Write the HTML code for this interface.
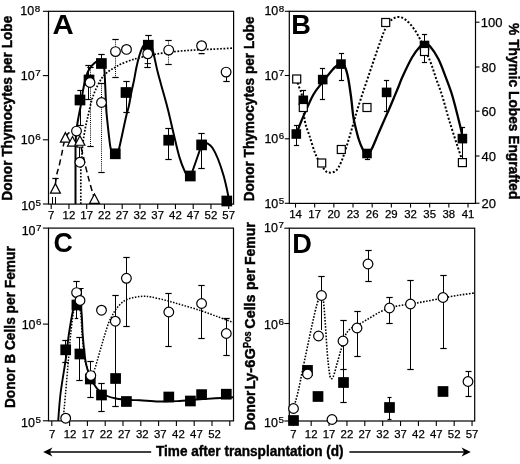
<!DOCTYPE html>
<html><head><meta charset="utf-8"><title>Figure</title>
<style>
html,body{margin:0;padding:0;background:#fff;}
body{width:520px;height:464px;overflow:hidden;}
svg{display:block;font-family:'Liberation Sans', sans-serif;will-change:transform;}
</style></head><body>
<svg width="520" height="464" viewBox="0 0 520 464">
<rect width="520" height="464" fill="#fff"/>
<rect x="48.50" y="11.30" width="185.10" height="192.80" fill="none" stroke="#000" stroke-width="1.2"/>
<line x1="42.90" y1="11.30" x2="48.50" y2="11.30" stroke="#000" stroke-width="1.1"/>
<text x="20.30" y="15.49" font-size="12" textLength="13.9" lengthAdjust="spacingAndGlyphs" stroke="#000" stroke-width="0.25">10</text>
<text transform="translate(34.70,11.59) scale(1.2,1)" font-size="8.2" stroke="#000" stroke-width="0.2">8</text>
<line x1="42.90" y1="75.60" x2="48.50" y2="75.60" stroke="#000" stroke-width="1.1"/>
<text x="20.80" y="79.69" font-size="12" textLength="13.9" lengthAdjust="spacingAndGlyphs" stroke="#000" stroke-width="0.25">10</text>
<text transform="translate(35.20,75.79) scale(1.2,1)" font-size="8.2" stroke="#000" stroke-width="0.2">7</text>
<line x1="42.90" y1="139.80" x2="48.50" y2="139.80" stroke="#000" stroke-width="1.1"/>
<text x="20.80" y="144.39" font-size="12" textLength="13.9" lengthAdjust="spacingAndGlyphs" stroke="#000" stroke-width="0.25">10</text>
<text transform="translate(35.20,140.49) scale(1.2,1)" font-size="8.2" stroke="#000" stroke-width="0.2">6</text>
<line x1="42.90" y1="204.00" x2="48.50" y2="204.00" stroke="#000" stroke-width="1.1"/>
<text x="21.20" y="209.59" font-size="12" textLength="13.9" lengthAdjust="spacingAndGlyphs" stroke="#000" stroke-width="0.25">10</text>
<text transform="translate(35.60,205.69) scale(1.2,1)" font-size="8.2" stroke="#000" stroke-width="0.2">5</text>
<line x1="51.20" y1="204.10" x2="51.20" y2="209.10" stroke="#000" stroke-width="1.1"/>
<text x="51.20" y="219.30" font-size="11.4" font-weight="normal" text-anchor="middle"  stroke="#000" stroke-width="0.25">7</text>
<line x1="68.95" y1="204.10" x2="68.95" y2="209.10" stroke="#000" stroke-width="1.1"/>
<text x="68.95" y="219.30" font-size="11.4" font-weight="normal" text-anchor="middle"  stroke="#000" stroke-width="0.25">12</text>
<line x1="86.70" y1="204.10" x2="86.70" y2="209.10" stroke="#000" stroke-width="1.1"/>
<text x="86.70" y="219.30" font-size="11.4" font-weight="normal" text-anchor="middle"  stroke="#000" stroke-width="0.25">17</text>
<line x1="104.45" y1="204.10" x2="104.45" y2="209.10" stroke="#000" stroke-width="1.1"/>
<text x="104.45" y="219.30" font-size="11.4" font-weight="normal" text-anchor="middle"  stroke="#000" stroke-width="0.25">22</text>
<line x1="122.20" y1="204.10" x2="122.20" y2="209.10" stroke="#000" stroke-width="1.1"/>
<text x="122.20" y="219.30" font-size="11.4" font-weight="normal" text-anchor="middle"  stroke="#000" stroke-width="0.25">27</text>
<line x1="139.95" y1="204.10" x2="139.95" y2="209.10" stroke="#000" stroke-width="1.1"/>
<text x="139.95" y="219.30" font-size="11.4" font-weight="normal" text-anchor="middle"  stroke="#000" stroke-width="0.25">32</text>
<line x1="157.70" y1="204.10" x2="157.70" y2="209.10" stroke="#000" stroke-width="1.1"/>
<text x="157.70" y="219.30" font-size="11.4" font-weight="normal" text-anchor="middle"  stroke="#000" stroke-width="0.25">37</text>
<line x1="175.45" y1="204.10" x2="175.45" y2="209.10" stroke="#000" stroke-width="1.1"/>
<text x="175.45" y="219.30" font-size="11.4" font-weight="normal" text-anchor="middle"  stroke="#000" stroke-width="0.25">42</text>
<line x1="193.20" y1="204.10" x2="193.20" y2="209.10" stroke="#000" stroke-width="1.1"/>
<text x="193.20" y="219.30" font-size="11.4" font-weight="normal" text-anchor="middle"  stroke="#000" stroke-width="0.25">47</text>
<line x1="210.95" y1="204.10" x2="210.95" y2="209.10" stroke="#000" stroke-width="1.1"/>
<text x="210.95" y="219.30" font-size="11.4" font-weight="normal" text-anchor="middle"  stroke="#000" stroke-width="0.25">52</text>
<line x1="228.70" y1="204.10" x2="228.70" y2="209.10" stroke="#000" stroke-width="1.1"/>
<text x="228.70" y="219.30" font-size="11.4" font-weight="normal" text-anchor="middle"  stroke="#000" stroke-width="0.25">57</text>
<text transform="translate(12.20,200.70) rotate(-90)" font-size="15.2" font-weight="bold" textLength="185.00" lengthAdjust="spacingAndGlyphs" stroke="#000" stroke-width="0.45">Donor Thymocytes per Lobe</text>
<text transform="translate(52.40,33.80) scale(1.08,1)" font-size="27.2" font-weight="bold">A</text>
<line x1="55.50" y1="178.50" x2="55.50" y2="184.00" stroke="#000" stroke-width="1"/>
<line x1="52.30" y1="178.50" x2="58.70" y2="178.50" stroke="#000" stroke-width="1.2"/>
<line x1="52.50" y1="197.00" x2="52.50" y2="204.00" stroke="#000" stroke-width="1"/>
<line x1="55.50" y1="197.00" x2="55.50" y2="204.00" stroke="#000" stroke-width="1"/>
<line x1="90.50" y1="67.50" x2="90.50" y2="146.50" stroke="#000" stroke-width="1" stroke-dasharray="1 1.1"/>
<line x1="87.30" y1="67.50" x2="93.70" y2="67.50" stroke="#000" stroke-width="1.2"/>
<line x1="87.30" y1="146.50" x2="93.70" y2="146.50" stroke="#000" stroke-width="1.2"/>
<line x1="101.50" y1="83.50" x2="101.50" y2="172.50" stroke="#000" stroke-width="1" stroke-dasharray="1 1.1"/>
<line x1="98.30" y1="83.50" x2="104.70" y2="83.50" stroke="#000" stroke-width="1.2"/>
<line x1="98.30" y1="172.50" x2="104.70" y2="172.50" stroke="#000" stroke-width="1.2"/>
<line x1="115.50" y1="39.50" x2="115.50" y2="77.50" stroke="#000" stroke-width="1" stroke-dasharray="1 1.1"/>
<line x1="112.30" y1="39.50" x2="118.70" y2="39.50" stroke="#000" stroke-width="1.2"/>
<line x1="112.30" y1="77.50" x2="118.70" y2="77.50" stroke="#000" stroke-width="1.2"/>
<line x1="147.50" y1="58.00" x2="147.50" y2="67.50" stroke="#000" stroke-width="1"/>
<line x1="144.30" y1="67.50" x2="150.70" y2="67.50" stroke="#000" stroke-width="1.2"/>
<line x1="144.60" y1="63.60" x2="151.00" y2="63.60" stroke="#000" stroke-width="1"/>
<line x1="168.50" y1="40.50" x2="168.50" y2="64.50" stroke="#000" stroke-width="1" stroke-dasharray="1 1.1"/>
<line x1="165.30" y1="40.50" x2="171.70" y2="40.50" stroke="#000" stroke-width="1.2"/>
<line x1="165.30" y1="64.50" x2="171.70" y2="64.50" stroke="#000" stroke-width="1.2"/>
<line x1="198.60" y1="53.60" x2="204.60" y2="53.60" stroke="#000" stroke-width="1.3"/>
<line x1="226.50" y1="77.00" x2="226.50" y2="81.50" stroke="#000" stroke-width="1"/>
<line x1="223.30" y1="81.50" x2="229.70" y2="81.50" stroke="#000" stroke-width="1.2"/>
<line x1="79.50" y1="147.20" x2="79.50" y2="157.00" stroke="#000" stroke-width="1"/>
<line x1="76.50" y1="147.20" x2="82.50" y2="147.20" stroke="#000" stroke-width="1"/>
<line x1="80.50" y1="90.50" x2="80.50" y2="125.50" stroke="#000" stroke-width="1"/>
<line x1="77.30" y1="90.50" x2="83.70" y2="90.50" stroke="#000" stroke-width="1.2"/>
<line x1="77.30" y1="125.50" x2="83.70" y2="125.50" stroke="#000" stroke-width="1.2"/>
<line x1="88.50" y1="65.50" x2="88.50" y2="99.50" stroke="#000" stroke-width="1"/>
<line x1="85.30" y1="65.50" x2="91.70" y2="65.50" stroke="#000" stroke-width="1.2"/>
<line x1="85.30" y1="99.50" x2="91.70" y2="99.50" stroke="#000" stroke-width="1.2"/>
<line x1="101.50" y1="54.50" x2="101.50" y2="63.00" stroke="#000" stroke-width="1"/>
<line x1="98.30" y1="54.50" x2="104.70" y2="54.50" stroke="#000" stroke-width="1.2"/>
<line x1="126.50" y1="81.50" x2="126.50" y2="112.50" stroke="#000" stroke-width="1"/>
<line x1="123.30" y1="81.50" x2="129.70" y2="81.50" stroke="#000" stroke-width="1.2"/>
<line x1="123.30" y1="112.50" x2="129.70" y2="112.50" stroke="#000" stroke-width="1.2"/>
<line x1="148.50" y1="35.50" x2="148.50" y2="46.00" stroke="#000" stroke-width="1"/>
<line x1="145.30" y1="35.50" x2="151.70" y2="35.50" stroke="#000" stroke-width="1.2"/>
<line x1="168.50" y1="128.50" x2="168.50" y2="159.50" stroke="#000" stroke-width="1"/>
<line x1="165.30" y1="128.50" x2="171.70" y2="128.50" stroke="#000" stroke-width="1.2"/>
<line x1="165.30" y1="159.50" x2="171.70" y2="159.50" stroke="#000" stroke-width="1.2"/>
<line x1="201.50" y1="133.50" x2="201.50" y2="168.50" stroke="#000" stroke-width="1"/>
<line x1="198.30" y1="133.50" x2="204.70" y2="133.50" stroke="#000" stroke-width="1.2"/>
<line x1="198.30" y1="168.50" x2="204.70" y2="168.50" stroke="#000" stroke-width="1.2"/>
<path d="M55.40,184.00 C55.67,182.25 56.38,176.50 57.00,173.50 C57.62,170.50 58.27,169.45 59.10,166.00 C59.93,162.55 61.20,156.57 62.00,152.80 C62.80,149.03 63.07,146.37 63.90,143.40 C64.73,140.43 65.65,136.98 67.00,135.00 C68.35,133.02 70.33,131.58 72.00,131.50 C73.67,131.42 75.37,131.42 77.00,134.50 C78.63,137.58 80.38,144.75 81.80,150.00 C83.22,155.25 84.25,160.82 85.50,166.00 C86.75,171.18 88.03,176.38 89.30,181.10 C90.57,185.82 92.23,191.32 93.10,194.30 C93.97,197.28 94.27,198.22 94.50,199.00" fill="none" stroke="#000" stroke-width="1.5" stroke-dasharray="6 3.6" stroke-linecap="butt" stroke-linejoin="round"/>
<path d="M80.8,204 L80.8,168  C80.97,166.25 81.48,161.28 81.80,157.50 C82.12,153.72 82.23,149.53 82.70,145.30 C83.17,141.07 83.82,136.57 84.60,132.10 C85.38,127.63 85.98,124.52 87.40,118.50 C88.82,112.48 90.75,102.67 93.10,96.00 C95.45,89.33 98.83,82.67 101.50,78.50 C104.17,74.33 106.77,72.88 109.10,71.00 C111.43,69.12 113.62,68.32 115.50,67.20 C117.38,66.08 117.98,65.42 120.40,64.30 C122.82,63.18 126.87,61.58 130.00,60.50 C133.13,59.42 135.22,58.82 139.20,57.80 C143.18,56.78 147.98,55.43 153.90,54.40 C159.82,53.37 168.10,52.32 174.70,51.60 C181.30,50.88 187.22,50.50 193.50,50.10 C199.78,49.70 205.77,49.53 212.40,49.20 C219.03,48.87 229.82,48.28 233.30,48.10" fill="none" stroke="#000" stroke-width="1.7" stroke-dasharray="1.7 1.6" stroke-linecap="butt" stroke-linejoin="round"/>
<path d="M75.5,204 L75.5,147  C75.63,144.33 75.88,135.50 76.30,131.00 C76.72,126.50 77.47,123.17 78.00,120.00 C78.53,116.83 79.03,114.43 79.50,112.00 C79.97,109.57 80.27,108.70 80.80,105.40 C81.33,102.10 82.00,96.28 82.70,92.20 C83.40,88.12 84.12,84.35 85.00,80.90 C85.88,77.45 86.82,74.08 88.00,71.50 C89.18,68.92 90.63,67.08 92.10,65.40 C93.57,63.72 95.38,62.30 96.80,61.40 C98.22,60.50 99.60,59.90 100.60,60.00 C101.60,60.10 102.20,60.67 102.80,62.00 C103.40,63.33 103.85,65.17 104.20,68.00 C104.55,70.83 104.67,74.65 104.90,79.00 C105.13,83.35 105.40,89.70 105.60,94.10 C105.80,98.50 105.88,101.58 106.10,105.40 C106.32,109.22 106.18,110.03 106.90,117.00 C107.62,123.97 109.42,141.03 110.40,147.20 C111.38,153.37 111.98,152.57 112.80,154.00 C113.62,155.43 114.57,155.80 115.30,155.80 C116.03,155.80 116.52,155.43 117.20,154.00 C117.88,152.57 117.93,153.37 119.40,147.20 C120.87,141.03 124.40,123.97 126.00,117.00 C127.60,110.03 128.10,109.53 129.00,105.40 C129.90,101.27 130.58,96.28 131.40,92.20 C132.22,88.12 133.07,85.02 133.90,80.90 C134.73,76.78 135.53,71.57 136.40,67.50 C137.27,63.43 138.10,59.83 139.10,56.50 C140.10,53.17 141.32,49.67 142.40,47.50 C143.48,45.33 144.62,44.33 145.60,43.50 C146.58,42.67 147.47,42.42 148.30,42.50 C149.13,42.58 149.78,42.42 150.60,44.00 C151.42,45.58 152.02,47.32 153.20,52.00 C154.38,56.68 156.00,65.30 157.70,72.10 C159.40,78.90 161.63,86.32 163.40,92.80 C165.17,99.28 166.57,104.05 168.30,111.00 C170.03,117.95 171.95,126.82 173.80,134.50 C175.65,142.18 177.52,150.82 179.40,157.10 C181.28,163.38 183.67,168.97 185.10,172.20 C186.53,175.43 187.13,175.62 188.00,176.50 C188.87,177.38 189.92,177.33 190.30,177.50 L201.6,145  C202.08,144.72 203.52,143.55 204.50,143.30 C205.48,143.05 206.18,142.77 207.50,143.50 C208.82,144.23 210.65,145.12 212.40,147.70 C214.15,150.28 216.12,154.28 218.00,159.00 C219.88,163.72 222.12,170.50 223.70,176.00 C225.28,181.50 226.62,187.83 227.50,192.00 C228.38,196.17 228.75,199.50 229.00,201.00" fill="none" stroke="#000" stroke-width="2" stroke-linecap="butt" stroke-linejoin="round"/>
<path d="M55.40,183.65 L60.40,193.15 L50.40,193.15 Z" fill="#fff" stroke="#000" stroke-width="1.2" stroke-linejoin="miter"/>
<path d="M65.40,132.65 L70.40,142.15 L60.40,142.15 Z" fill="#fff" stroke="#000" stroke-width="1.2" stroke-linejoin="miter"/>
<path d="M72.50,136.55 L77.50,146.05 L67.50,146.05 Z" fill="#fff" stroke="#000" stroke-width="1.2" stroke-linejoin="miter"/>
<path d="M79.90,135.75 L84.90,145.25 L74.90,145.25 Z" fill="#fff" stroke="#000" stroke-width="1.2" stroke-linejoin="miter"/>
<path d="M94.50,193.95 L99.50,203.45 L89.50,203.45 Z" fill="#fff" stroke="#000" stroke-width="1.2" stroke-linejoin="miter"/>
<rect x="74.65" y="94.65" width="10.70" height="10.70" fill="#000"/>
<rect x="83.65" y="74.65" width="10.70" height="10.70" fill="#000"/>
<rect x="96.05" y="58.15" width="10.70" height="10.70" fill="#000"/>
<rect x="109.95" y="148.45" width="10.70" height="10.70" fill="#000"/>
<rect x="120.65" y="87.15" width="10.70" height="10.70" fill="#000"/>
<rect x="142.95" y="39.85" width="10.70" height="10.70" fill="#000"/>
<rect x="163.35" y="134.85" width="10.70" height="10.70" fill="#000"/>
<rect x="184.95" y="170.65" width="10.70" height="10.70" fill="#000"/>
<rect x="196.25" y="139.55" width="10.70" height="10.70" fill="#000"/>
<rect x="221.45" y="195.65" width="10.70" height="10.70" fill="#000"/>
<circle cx="76.50" cy="131.10" r="4.85" fill="#fff" stroke="#000" stroke-width="1.2"/>
<circle cx="79.90" cy="162.20" r="4.85" fill="#fff" stroke="#000" stroke-width="1.2"/>
<circle cx="90.00" cy="82.50" r="4.85" fill="#fff" stroke="#000" stroke-width="1.2"/>
<circle cx="101.50" cy="102.50" r="4.85" fill="#fff" stroke="#000" stroke-width="1.2"/>
<circle cx="115.50" cy="51.60" r="4.85" fill="#fff" stroke="#000" stroke-width="1.2"/>
<circle cx="126.50" cy="49.40" r="4.85" fill="#fff" stroke="#000" stroke-width="1.2"/>
<circle cx="147.70" cy="53.80" r="4.85" fill="#fff" stroke="#000" stroke-width="1.2"/>
<circle cx="168.70" cy="50.10" r="4.85" fill="#fff" stroke="#000" stroke-width="1.2"/>
<circle cx="201.60" cy="45.70" r="4.85" fill="#fff" stroke="#000" stroke-width="1.2"/>
<circle cx="226.10" cy="72.10" r="4.85" fill="#fff" stroke="#000" stroke-width="1.2"/>
<rect x="289.30" y="11.30" width="186.20" height="192.10" fill="none" stroke="#000" stroke-width="1.2"/>
<line x1="284.80" y1="11.30" x2="289.30" y2="11.30" stroke="#000" stroke-width="1.1"/>
<text x="264.40" y="15.49" font-size="12" textLength="13.9" lengthAdjust="spacingAndGlyphs" stroke="#000" stroke-width="0.25">10</text>
<text transform="translate(278.80,11.59) scale(1.2,1)" font-size="8.2" stroke="#000" stroke-width="0.2">8</text>
<line x1="284.80" y1="75.50" x2="289.30" y2="75.50" stroke="#000" stroke-width="1.1"/>
<text x="264.40" y="79.79" font-size="12" textLength="13.9" lengthAdjust="spacingAndGlyphs" stroke="#000" stroke-width="0.25">10</text>
<text transform="translate(278.80,75.89) scale(1.2,1)" font-size="8.2" stroke="#000" stroke-width="0.2">7</text>
<line x1="284.80" y1="138.80" x2="289.30" y2="138.80" stroke="#000" stroke-width="1.1"/>
<text x="264.40" y="143.39" font-size="12" textLength="13.9" lengthAdjust="spacingAndGlyphs" stroke="#000" stroke-width="0.25">10</text>
<text transform="translate(278.80,139.49) scale(1.2,1)" font-size="8.2" stroke="#000" stroke-width="0.2">6</text>
<line x1="284.80" y1="203.30" x2="289.30" y2="203.30" stroke="#000" stroke-width="1.1"/>
<text x="264.40" y="207.59" font-size="12" textLength="13.9" lengthAdjust="spacingAndGlyphs" stroke="#000" stroke-width="0.25">10</text>
<text transform="translate(278.80,203.69) scale(1.2,1)" font-size="8.2" stroke="#000" stroke-width="0.2">5</text>
<line x1="295.50" y1="203.40" x2="295.50" y2="207.60" stroke="#000" stroke-width="1.1"/>
<text x="295.50" y="218.30" font-size="11.4" font-weight="normal" text-anchor="middle"  stroke="#000" stroke-width="0.25">14</text>
<line x1="314.67" y1="203.40" x2="314.67" y2="207.60" stroke="#000" stroke-width="1.1"/>
<text x="314.67" y="218.30" font-size="11.4" font-weight="normal" text-anchor="middle"  stroke="#000" stroke-width="0.25">17</text>
<line x1="333.84" y1="203.40" x2="333.84" y2="207.60" stroke="#000" stroke-width="1.1"/>
<text x="333.84" y="218.30" font-size="11.4" font-weight="normal" text-anchor="middle"  stroke="#000" stroke-width="0.25">20</text>
<line x1="353.01" y1="203.40" x2="353.01" y2="207.60" stroke="#000" stroke-width="1.1"/>
<text x="353.01" y="218.30" font-size="11.4" font-weight="normal" text-anchor="middle"  stroke="#000" stroke-width="0.25">23</text>
<line x1="372.18" y1="203.40" x2="372.18" y2="207.60" stroke="#000" stroke-width="1.1"/>
<text x="372.18" y="218.30" font-size="11.4" font-weight="normal" text-anchor="middle"  stroke="#000" stroke-width="0.25">26</text>
<line x1="391.35" y1="203.40" x2="391.35" y2="207.60" stroke="#000" stroke-width="1.1"/>
<text x="391.35" y="218.30" font-size="11.4" font-weight="normal" text-anchor="middle"  stroke="#000" stroke-width="0.25">29</text>
<line x1="410.52" y1="203.40" x2="410.52" y2="207.60" stroke="#000" stroke-width="1.1"/>
<text x="410.52" y="218.30" font-size="11.4" font-weight="normal" text-anchor="middle"  stroke="#000" stroke-width="0.25">32</text>
<line x1="429.69" y1="203.40" x2="429.69" y2="207.60" stroke="#000" stroke-width="1.1"/>
<text x="429.69" y="218.30" font-size="11.4" font-weight="normal" text-anchor="middle"  stroke="#000" stroke-width="0.25">35</text>
<line x1="448.86" y1="203.40" x2="448.86" y2="207.60" stroke="#000" stroke-width="1.1"/>
<text x="448.86" y="218.30" font-size="11.4" font-weight="normal" text-anchor="middle"  stroke="#000" stroke-width="0.25">38</text>
<line x1="468.03" y1="203.40" x2="468.03" y2="207.60" stroke="#000" stroke-width="1.1"/>
<text x="468.03" y="218.30" font-size="11.4" font-weight="normal" text-anchor="middle"  stroke="#000" stroke-width="0.25">41</text>
<line x1="475.50" y1="22.20" x2="479.50" y2="22.20" stroke="#000" stroke-width="1.1"/>
<text x="480.80" y="26.90" font-size="13" font-weight="normal" text-anchor="start"  stroke="#000" stroke-width="0.25">100</text>
<line x1="475.50" y1="67.00" x2="479.50" y2="67.00" stroke="#000" stroke-width="1.1"/>
<text x="481.50" y="71.70" font-size="13" font-weight="normal" text-anchor="start"  stroke="#000" stroke-width="0.25">80</text>
<line x1="475.50" y1="111.20" x2="479.50" y2="111.20" stroke="#000" stroke-width="1.1"/>
<text x="481.50" y="115.90" font-size="13" font-weight="normal" text-anchor="start"  stroke="#000" stroke-width="0.25">60</text>
<line x1="475.50" y1="156.00" x2="479.50" y2="156.00" stroke="#000" stroke-width="1.1"/>
<text x="481.50" y="160.70" font-size="13" font-weight="normal" text-anchor="start"  stroke="#000" stroke-width="0.25">40</text>
<line x1="475.50" y1="203.20" x2="479.50" y2="203.20" stroke="#000" stroke-width="1.1"/>
<text x="481.50" y="207.90" font-size="13" font-weight="normal" text-anchor="start"  stroke="#000" stroke-width="0.25">20</text>
<text transform="translate(253.50,201.30) rotate(-90)" font-size="15.2" font-weight="bold" textLength="184.80" lengthAdjust="spacingAndGlyphs" stroke="#000" stroke-width="0.45">Donor Thymocytes per Lobe</text>
<text transform="translate(508.70,23.10) rotate(90)" font-size="15.2" font-weight="bold" textLength="176.30" lengthAdjust="spacingAndGlyphs" stroke="#000" stroke-width="0.45">% Thymic Lobes Engrafted</text>
<text transform="translate(291.20,33.60) scale(1.0,1)" font-size="27.2" font-weight="bold">B</text>
<line x1="296.50" y1="125.50" x2="296.50" y2="145.50" stroke="#000" stroke-width="1"/>
<line x1="293.90" y1="125.50" x2="299.10" y2="125.50" stroke="#000" stroke-width="1.2"/>
<line x1="293.90" y1="145.50" x2="299.10" y2="145.50" stroke="#000" stroke-width="1.2"/>
<line x1="303.50" y1="90.50" x2="303.50" y2="100.00" stroke="#000" stroke-width="1"/>
<line x1="300.90" y1="90.50" x2="306.10" y2="90.50" stroke="#000" stroke-width="1.2"/>
<line x1="322.50" y1="68.50" x2="322.50" y2="99.50" stroke="#000" stroke-width="1"/>
<line x1="319.90" y1="68.50" x2="325.10" y2="68.50" stroke="#000" stroke-width="1.2"/>
<line x1="319.90" y1="99.50" x2="325.10" y2="99.50" stroke="#000" stroke-width="1.2"/>
<line x1="341.50" y1="53.50" x2="341.50" y2="80.50" stroke="#000" stroke-width="1"/>
<line x1="338.90" y1="53.50" x2="344.10" y2="53.50" stroke="#000" stroke-width="1.2"/>
<line x1="338.90" y1="80.50" x2="344.10" y2="80.50" stroke="#000" stroke-width="1.2"/>
<line x1="367.50" y1="153.00" x2="367.50" y2="159.50" stroke="#000" stroke-width="1"/>
<line x1="364.90" y1="159.50" x2="370.10" y2="159.50" stroke="#000" stroke-width="1.2"/>
<line x1="386.50" y1="80.50" x2="386.50" y2="111.50" stroke="#000" stroke-width="1"/>
<line x1="383.90" y1="80.50" x2="389.10" y2="80.50" stroke="#000" stroke-width="1.2"/>
<line x1="383.90" y1="111.50" x2="389.10" y2="111.50" stroke="#000" stroke-width="1.2"/>
<line x1="424.50" y1="34.50" x2="424.50" y2="62.50" stroke="#000" stroke-width="1"/>
<line x1="421.90" y1="34.50" x2="427.10" y2="34.50" stroke="#000" stroke-width="1.2"/>
<line x1="421.90" y1="62.50" x2="427.10" y2="62.50" stroke="#000" stroke-width="1.2"/>
<line x1="462.50" y1="127.50" x2="462.50" y2="158.00" stroke="#000" stroke-width="1"/>
<line x1="459.90" y1="127.50" x2="465.10" y2="127.50" stroke="#000" stroke-width="1.2"/>
<path d="M296.50,79.00 C296.93,80.35 298.18,84.27 299.10,87.10 C300.02,89.93 301.05,90.38 302.00,96.00 C302.95,101.62 303.55,114.17 304.80,120.80 C306.05,127.43 307.62,130.00 309.50,135.80 C311.38,141.60 313.58,149.93 316.10,155.60 C318.62,161.27 322.40,166.97 324.60,169.80 C326.80,172.63 327.42,172.45 329.30,172.60 C331.18,172.75 333.87,172.58 335.90,170.70 C337.93,168.82 339.47,166.17 341.50,161.30 C343.53,156.43 346.05,148.05 348.10,141.50 C350.15,134.95 352.07,127.92 353.80,122.00 C355.53,116.08 356.15,113.38 358.50,106.00 C360.85,98.62 364.32,88.28 367.90,77.70 C371.48,67.12 377.03,50.78 380.00,42.50 C382.97,34.22 383.70,31.83 385.70,28.00 C387.70,24.17 389.82,21.33 392.00,19.50 C394.18,17.67 396.47,16.92 398.80,17.00 C401.13,17.08 403.48,18.03 406.00,20.00 C408.52,21.97 411.48,25.43 413.90,28.80 C416.32,32.17 417.82,34.85 420.50,40.20 C423.18,45.55 427.33,54.32 430.00,60.90 C432.67,67.48 434.47,73.88 436.50,79.70 C438.53,85.52 440.00,88.75 442.20,95.80 C444.40,102.85 446.72,112.28 449.70,122.00 C452.68,131.72 457.98,147.60 460.10,154.10 C462.22,160.60 462.02,159.85 462.40,161.00" fill="none" stroke="#000" stroke-width="2" stroke-dasharray="2 1.9" stroke-linecap="butt" stroke-linejoin="round"/>
<path d="M296.30,134.00 C296.77,132.78 297.85,129.80 299.10,126.70 C300.35,123.60 301.43,120.73 303.80,115.40 C306.17,110.07 310.15,100.27 313.30,94.70 C316.45,89.13 319.57,86.08 322.70,82.00 C325.83,77.92 329.72,72.95 332.10,70.20 C334.48,67.45 335.52,66.60 337.00,65.50 C338.48,64.40 339.70,63.43 341.00,63.60 C342.30,63.77 343.62,64.15 344.80,66.50 C345.98,68.85 347.07,72.70 348.10,77.70 C349.13,82.70 350.13,90.03 351.00,96.50 C351.87,102.97 352.53,111.33 353.30,116.50 C354.07,121.67 354.68,123.67 355.60,127.50 C356.52,131.33 357.65,135.95 358.80,139.50 C359.95,143.05 361.13,146.08 362.50,148.80 C363.87,151.52 365.45,155.80 367.00,155.80 C368.55,155.80 370.22,151.77 371.80,148.80 C373.38,145.83 374.98,141.52 376.50,138.00 C378.02,134.48 378.92,132.25 380.90,127.70 C382.88,123.15 386.30,115.53 388.40,110.70 C390.50,105.87 391.83,102.65 393.50,98.70 C395.17,94.75 396.88,90.70 398.40,87.00 C399.92,83.30 400.33,81.42 402.60,76.50 C404.87,71.58 409.02,62.58 412.00,57.50 C414.98,52.42 418.33,48.33 420.50,46.00 C422.67,43.67 423.42,43.47 425.00,43.50 C426.58,43.53 427.77,43.62 430.00,46.20 C432.23,48.78 435.73,53.73 438.40,59.00 C441.07,64.27 443.82,72.13 446.00,77.80 C448.18,83.47 449.93,88.13 451.50,93.00 C453.07,97.87 453.97,101.53 455.40,107.00 C456.83,112.47 458.93,120.97 460.10,125.80 C461.27,130.63 462.02,134.30 462.40,136.00" fill="none" stroke="#000" stroke-width="2.3" stroke-linecap="butt" stroke-linejoin="round"/>
<rect x="291.50" y="129.20" width="9.60" height="9.60" fill="#000"/>
<rect x="298.50" y="95.50" width="9.60" height="9.60" fill="#000"/>
<rect x="317.90" y="74.80" width="9.60" height="9.60" fill="#000"/>
<rect x="336.20" y="59.30" width="9.60" height="9.60" fill="#000"/>
<rect x="362.20" y="148.70" width="9.60" height="9.60" fill="#000"/>
<rect x="381.80" y="87.60" width="9.60" height="9.60" fill="#000"/>
<rect x="419.70" y="40.70" width="9.60" height="9.60" fill="#000"/>
<rect x="457.60" y="133.80" width="9.60" height="9.60" fill="#000"/>
<rect x="292.70" y="75.00" width="8.00" height="8.00" fill="#fff" stroke="#000" stroke-width="1.2"/>
<rect x="299.30" y="103.50" width="8.00" height="8.00" fill="#fff" stroke="#000" stroke-width="1.2"/>
<rect x="317.70" y="159.00" width="8.00" height="8.00" fill="#fff" stroke="#000" stroke-width="1.2"/>
<rect x="337.30" y="145.50" width="8.00" height="8.00" fill="#fff" stroke="#000" stroke-width="1.2"/>
<rect x="363.00" y="103.50" width="8.00" height="8.00" fill="#fff" stroke="#000" stroke-width="1.2"/>
<rect x="381.70" y="18.50" width="8.00" height="8.00" fill="#fff" stroke="#000" stroke-width="1.2"/>
<rect x="420.50" y="47.50" width="8.00" height="8.00" fill="#fff" stroke="#000" stroke-width="1.2"/>
<rect x="458.40" y="158.60" width="8.00" height="8.00" fill="#fff" stroke="#000" stroke-width="1.2"/>
<rect x="48.50" y="228.10" width="185.00" height="192.80" fill="none" stroke="#000" stroke-width="1.2"/>
<line x1="42.90" y1="228.10" x2="48.50" y2="228.10" stroke="#000" stroke-width="1.1"/>
<text x="21.65" y="234.79" font-size="12" textLength="13.9" lengthAdjust="spacingAndGlyphs" stroke="#000" stroke-width="0.25">10</text>
<text transform="translate(36.05,230.89) scale(1.2,1)" font-size="8.2" stroke="#000" stroke-width="0.2">7</text>
<line x1="42.90" y1="324.10" x2="48.50" y2="324.10" stroke="#000" stroke-width="1.1"/>
<text x="21.65" y="329.29" font-size="12" textLength="13.9" lengthAdjust="spacingAndGlyphs" stroke="#000" stroke-width="0.25">10</text>
<text transform="translate(36.05,325.39) scale(1.2,1)" font-size="8.2" stroke="#000" stroke-width="0.2">6</text>
<line x1="42.90" y1="420.80" x2="48.50" y2="420.80" stroke="#000" stroke-width="1.1"/>
<text x="21.00" y="427.09" font-size="12" textLength="13.9" lengthAdjust="spacingAndGlyphs" stroke="#000" stroke-width="0.25">10</text>
<text transform="translate(35.40,423.19) scale(1.2,1)" font-size="8.2" stroke="#000" stroke-width="0.2">5</text>
<line x1="51.80" y1="420.90" x2="51.80" y2="425.90" stroke="#000" stroke-width="1.1"/>
<text x="52.05" y="437.60" font-size="11.4" font-weight="normal" text-anchor="middle"  stroke="#000" stroke-width="0.25">7</text>
<line x1="69.60" y1="420.90" x2="69.60" y2="425.90" stroke="#000" stroke-width="1.1"/>
<text x="70.10" y="437.60" font-size="11.4" font-weight="normal" text-anchor="middle"  stroke="#000" stroke-width="0.25">12</text>
<line x1="87.40" y1="420.90" x2="87.40" y2="425.90" stroke="#000" stroke-width="1.1"/>
<text x="88.15" y="437.60" font-size="11.4" font-weight="normal" text-anchor="middle"  stroke="#000" stroke-width="0.25">17</text>
<line x1="105.20" y1="420.90" x2="105.20" y2="425.90" stroke="#000" stroke-width="1.1"/>
<text x="106.20" y="437.60" font-size="11.4" font-weight="normal" text-anchor="middle"  stroke="#000" stroke-width="0.25">22</text>
<line x1="123.00" y1="420.90" x2="123.00" y2="425.90" stroke="#000" stroke-width="1.1"/>
<text x="124.25" y="437.60" font-size="11.4" font-weight="normal" text-anchor="middle"  stroke="#000" stroke-width="0.25">27</text>
<line x1="140.80" y1="420.90" x2="140.80" y2="425.90" stroke="#000" stroke-width="1.1"/>
<text x="142.30" y="437.60" font-size="11.4" font-weight="normal" text-anchor="middle"  stroke="#000" stroke-width="0.25">32</text>
<line x1="158.60" y1="420.90" x2="158.60" y2="425.90" stroke="#000" stroke-width="1.1"/>
<text x="160.35" y="437.60" font-size="11.4" font-weight="normal" text-anchor="middle"  stroke="#000" stroke-width="0.25">37</text>
<line x1="176.40" y1="420.90" x2="176.40" y2="425.90" stroke="#000" stroke-width="1.1"/>
<text x="178.40" y="437.60" font-size="11.4" font-weight="normal" text-anchor="middle"  stroke="#000" stroke-width="0.25">42</text>
<line x1="194.20" y1="420.90" x2="194.20" y2="425.90" stroke="#000" stroke-width="1.1"/>
<text x="196.45" y="437.60" font-size="11.4" font-weight="normal" text-anchor="middle"  stroke="#000" stroke-width="0.25">47</text>
<line x1="212.00" y1="420.90" x2="212.00" y2="425.90" stroke="#000" stroke-width="1.1"/>
<text x="214.50" y="437.60" font-size="11.4" font-weight="normal" text-anchor="middle"  stroke="#000" stroke-width="0.25">52</text>
<line x1="229.80" y1="420.90" x2="229.80" y2="425.90" stroke="#000" stroke-width="1.1"/>
<text transform="translate(14.80,408.10) rotate(-90)" font-size="15.2" font-weight="bold" textLength="161.90" lengthAdjust="spacingAndGlyphs" stroke="#000" stroke-width="0.45">Donor B Cells per Femur</text>
<text transform="translate(53.60,252.30) scale(0.95,1)" font-size="28.2" font-weight="bold">C</text>
<line x1="76.50" y1="281.50" x2="76.50" y2="293.00" stroke="#000" stroke-width="1"/>
<line x1="73.30" y1="281.50" x2="79.70" y2="281.50" stroke="#000" stroke-width="1.2"/>
<line x1="81.50" y1="288.50" x2="81.50" y2="300.00" stroke="#000" stroke-width="1"/>
<line x1="78.60" y1="288.50" x2="83.60" y2="288.50" stroke="#000" stroke-width="1"/>
<line x1="115.50" y1="295.50" x2="115.50" y2="406.50" stroke="#000" stroke-width="1"/>
<line x1="112.30" y1="295.50" x2="118.70" y2="295.50" stroke="#000" stroke-width="1.2"/>
<line x1="112.30" y1="406.50" x2="118.70" y2="406.50" stroke="#000" stroke-width="1.2"/>
<line x1="126.50" y1="257.50" x2="126.50" y2="326.50" stroke="#000" stroke-width="1"/>
<line x1="123.30" y1="257.50" x2="129.70" y2="257.50" stroke="#000" stroke-width="1.2"/>
<line x1="123.30" y1="326.50" x2="129.70" y2="326.50" stroke="#000" stroke-width="1.2"/>
<line x1="168.50" y1="293.50" x2="168.50" y2="346.50" stroke="#000" stroke-width="1"/>
<line x1="165.30" y1="293.50" x2="171.70" y2="293.50" stroke="#000" stroke-width="1.2"/>
<line x1="165.30" y1="346.50" x2="171.70" y2="346.50" stroke="#000" stroke-width="1.2"/>
<line x1="201.50" y1="285.50" x2="201.50" y2="338.50" stroke="#000" stroke-width="1"/>
<line x1="198.30" y1="285.50" x2="204.70" y2="285.50" stroke="#000" stroke-width="1.2"/>
<line x1="198.30" y1="338.50" x2="204.70" y2="338.50" stroke="#000" stroke-width="1.2"/>
<line x1="226.50" y1="318.50" x2="226.50" y2="355.50" stroke="#000" stroke-width="1"/>
<line x1="223.30" y1="318.50" x2="229.70" y2="318.50" stroke="#000" stroke-width="1.2"/>
<line x1="223.30" y1="355.50" x2="229.70" y2="355.50" stroke="#000" stroke-width="1.2"/>
<line x1="90.50" y1="361.50" x2="90.50" y2="397.50" stroke="#000" stroke-width="1"/>
<line x1="87.30" y1="361.50" x2="93.70" y2="361.50" stroke="#000" stroke-width="1.2"/>
<line x1="87.30" y1="397.50" x2="93.70" y2="397.50" stroke="#000" stroke-width="1.2"/>
<line x1="65.50" y1="340.50" x2="65.50" y2="362.50" stroke="#000" stroke-width="1"/>
<line x1="62.30" y1="340.50" x2="68.70" y2="340.50" stroke="#000" stroke-width="1.2"/>
<line x1="62.30" y1="362.50" x2="68.70" y2="362.50" stroke="#000" stroke-width="1.2"/>
<line x1="76.50" y1="310.00" x2="76.50" y2="318.50" stroke="#000" stroke-width="1"/>
<line x1="74.75" y1="318.50" x2="78.25" y2="318.50" stroke="#000" stroke-width="1.2"/>
<line x1="79.50" y1="337.50" x2="79.50" y2="380.50" stroke="#000" stroke-width="1"/>
<line x1="76.30" y1="337.50" x2="82.70" y2="337.50" stroke="#000" stroke-width="1.2"/>
<line x1="76.30" y1="380.50" x2="82.70" y2="380.50" stroke="#000" stroke-width="1.2"/>
<line x1="101.50" y1="383.50" x2="101.50" y2="411.50" stroke="#000" stroke-width="1"/>
<line x1="98.30" y1="383.50" x2="104.70" y2="383.50" stroke="#000" stroke-width="1.2"/>
<line x1="98.30" y1="411.50" x2="104.70" y2="411.50" stroke="#000" stroke-width="1.2"/>
<path d="M63.00,421.00 C63.43,416.33 64.64,403.83 65.60,393.00 C66.56,382.17 67.92,365.67 68.75,356.00 C69.58,346.33 69.81,342.33 70.60,335.00 C71.39,327.67 72.43,317.50 73.50,312.00 C74.57,306.50 75.83,302.00 77.00,302.00 C78.17,302.00 79.63,306.50 80.50,312.00 C81.37,317.50 81.52,327.33 82.20,335.00 C82.88,342.67 83.73,352.33 84.60,358.00 C85.47,363.67 86.37,366.07 87.40,369.00 C88.43,371.93 89.63,375.43 90.80,375.60 C91.97,375.77 92.87,374.10 94.40,370.00 C95.93,365.90 98.33,356.67 100.00,351.00 C101.67,345.33 102.94,340.75 104.40,336.00 C105.86,331.25 107.40,326.00 108.75,322.50 C110.10,319.00 111.19,317.35 112.50,315.00 C113.81,312.65 114.65,310.75 116.60,308.40 C118.55,306.05 121.37,302.72 124.20,300.90 C127.03,299.08 130.47,298.27 133.60,297.50 C136.73,296.73 140.05,296.37 143.00,296.30 C145.95,296.23 147.72,296.48 151.30,297.10 C154.88,297.72 160.10,298.90 164.50,300.00 C168.90,301.10 171.73,301.95 177.70,303.70 C183.67,305.45 193.38,308.23 200.30,310.50 C207.22,312.77 213.70,315.30 219.20,317.30 C224.70,319.30 230.95,321.63 233.30,322.50" fill="none" stroke="#000" stroke-width="1.5" stroke-dasharray="1.5 1.5" stroke-linecap="butt" stroke-linejoin="round"/>
<path d="M58.20,421.00 C58.60,416.33 59.26,403.83 60.60,393.00 C61.94,382.17 64.89,365.67 66.25,356.00 C67.61,346.33 67.61,342.67 68.75,335.00 C69.89,327.33 71.72,316.00 73.10,310.00 C74.47,304.00 75.64,299.00 77.00,299.00 C78.36,299.00 80.29,304.00 81.25,310.00 C82.21,316.00 82.12,327.00 82.75,335.00 C83.38,343.00 84.21,352.25 85.00,358.00 C85.79,363.75 86.57,366.42 87.50,369.50 C88.43,372.58 89.56,374.12 90.60,376.50 C91.64,378.88 92.39,381.42 93.75,383.75 C95.11,386.08 96.71,388.54 98.75,390.50 C100.79,392.46 103.12,394.17 106.00,395.50 C108.88,396.83 112.00,397.75 116.00,398.50 C120.00,399.25 126.00,399.72 130.00,400.00 C134.00,400.28 135.20,399.95 140.00,400.20 C144.80,400.45 152.52,401.35 158.80,401.50 C165.08,401.65 171.42,401.42 177.70,401.10 C183.98,400.78 190.22,400.07 196.50,399.60 C202.78,399.13 209.27,398.68 215.40,398.30 C221.53,397.92 230.32,397.47 233.30,397.30" fill="none" stroke="#000" stroke-width="1.9" stroke-linecap="butt" stroke-linejoin="round"/>
<rect x="60.35" y="344.45" width="10.70" height="10.70" fill="#000"/>
<rect x="71.55" y="299.65" width="10.70" height="10.70" fill="#000"/>
<rect x="74.55" y="348.65" width="10.70" height="10.70" fill="#000"/>
<rect x="84.95" y="373.65" width="10.70" height="10.70" fill="#000"/>
<rect x="96.15" y="389.65" width="10.70" height="10.70" fill="#000"/>
<rect x="110.25" y="373.15" width="10.70" height="10.70" fill="#000"/>
<rect x="121.05" y="396.15" width="10.70" height="10.70" fill="#000"/>
<rect x="163.45" y="391.65" width="10.70" height="10.70" fill="#000"/>
<rect x="185.05" y="395.65" width="10.70" height="10.70" fill="#000"/>
<rect x="196.25" y="389.25" width="10.70" height="10.70" fill="#000"/>
<rect x="220.95" y="388.85" width="10.70" height="10.70" fill="#000"/>
<circle cx="65.70" cy="418.20" r="4.85" fill="#fff" stroke="#000" stroke-width="1.2"/>
<circle cx="76.60" cy="292.60" r="4.85" fill="#fff" stroke="#000" stroke-width="1.2"/>
<circle cx="80.00" cy="300.40" r="4.85" fill="#fff" stroke="#000" stroke-width="1.2"/>
<circle cx="90.80" cy="375.60" r="4.85" fill="#fff" stroke="#000" stroke-width="1.2"/>
<circle cx="101.50" cy="310.20" r="4.85" fill="#fff" stroke="#000" stroke-width="1.2"/>
<circle cx="115.30" cy="321.20" r="4.85" fill="#fff" stroke="#000" stroke-width="1.2"/>
<circle cx="126.40" cy="278.30" r="4.85" fill="#fff" stroke="#000" stroke-width="1.2"/>
<circle cx="168.80" cy="312.00" r="4.85" fill="#fff" stroke="#000" stroke-width="1.2"/>
<circle cx="201.60" cy="303.50" r="4.85" fill="#fff" stroke="#000" stroke-width="1.2"/>
<circle cx="226.30" cy="333.50" r="4.85" fill="#fff" stroke="#000" stroke-width="1.2"/>
<rect x="289.30" y="228.20" width="185.40" height="192.80" fill="none" stroke="#000" stroke-width="1.2"/>
<line x1="284.30" y1="228.20" x2="289.30" y2="228.20" stroke="#000" stroke-width="1.1"/>
<text x="264.10" y="232.39" font-size="12" textLength="13.9" lengthAdjust="spacingAndGlyphs" stroke="#000" stroke-width="0.25">10</text>
<text transform="translate(278.50,228.49) scale(1.2,1)" font-size="8.2" stroke="#000" stroke-width="0.2">7</text>
<line x1="284.30" y1="323.50" x2="289.30" y2="323.50" stroke="#000" stroke-width="1.1"/>
<text x="264.10" y="328.99" font-size="12" textLength="13.9" lengthAdjust="spacingAndGlyphs" stroke="#000" stroke-width="0.25">10</text>
<text transform="translate(278.50,325.09) scale(1.2,1)" font-size="8.2" stroke="#000" stroke-width="0.2">6</text>
<line x1="284.30" y1="421.00" x2="289.30" y2="421.00" stroke="#000" stroke-width="1.1"/>
<text x="264.10" y="427.29" font-size="12" textLength="13.9" lengthAdjust="spacingAndGlyphs" stroke="#000" stroke-width="0.25">10</text>
<text transform="translate(278.50,423.39) scale(1.2,1)" font-size="8.2" stroke="#000" stroke-width="0.2">5</text>
<line x1="293.30" y1="421.00" x2="293.30" y2="426.00" stroke="#000" stroke-width="1.1"/>
<text x="293.30" y="437.90" font-size="11.4" font-weight="normal" text-anchor="middle"  stroke="#000" stroke-width="0.25">7</text>
<line x1="311.18" y1="421.00" x2="311.18" y2="426.00" stroke="#000" stroke-width="1.1"/>
<text x="311.18" y="437.90" font-size="11.4" font-weight="normal" text-anchor="middle"  stroke="#000" stroke-width="0.25">12</text>
<line x1="329.05" y1="421.00" x2="329.05" y2="426.00" stroke="#000" stroke-width="1.1"/>
<text x="329.05" y="437.90" font-size="11.4" font-weight="normal" text-anchor="middle"  stroke="#000" stroke-width="0.25">17</text>
<line x1="346.93" y1="421.00" x2="346.93" y2="426.00" stroke="#000" stroke-width="1.1"/>
<text x="346.93" y="437.90" font-size="11.4" font-weight="normal" text-anchor="middle"  stroke="#000" stroke-width="0.25">22</text>
<line x1="364.80" y1="421.00" x2="364.80" y2="426.00" stroke="#000" stroke-width="1.1"/>
<text x="364.80" y="437.90" font-size="11.4" font-weight="normal" text-anchor="middle"  stroke="#000" stroke-width="0.25">27</text>
<line x1="382.68" y1="421.00" x2="382.68" y2="426.00" stroke="#000" stroke-width="1.1"/>
<text x="382.68" y="437.90" font-size="11.4" font-weight="normal" text-anchor="middle"  stroke="#000" stroke-width="0.25">32</text>
<line x1="400.55" y1="421.00" x2="400.55" y2="426.00" stroke="#000" stroke-width="1.1"/>
<text x="400.55" y="437.90" font-size="11.4" font-weight="normal" text-anchor="middle"  stroke="#000" stroke-width="0.25">37</text>
<line x1="418.43" y1="421.00" x2="418.43" y2="426.00" stroke="#000" stroke-width="1.1"/>
<text x="418.43" y="437.90" font-size="11.4" font-weight="normal" text-anchor="middle"  stroke="#000" stroke-width="0.25">42</text>
<line x1="436.30" y1="421.00" x2="436.30" y2="426.00" stroke="#000" stroke-width="1.1"/>
<text x="436.30" y="437.90" font-size="11.4" font-weight="normal" text-anchor="middle"  stroke="#000" stroke-width="0.25">47</text>
<line x1="454.18" y1="421.00" x2="454.18" y2="426.00" stroke="#000" stroke-width="1.1"/>
<text x="454.18" y="437.90" font-size="11.4" font-weight="normal" text-anchor="middle"  stroke="#000" stroke-width="0.25">52</text>
<line x1="472.05" y1="421.00" x2="472.05" y2="426.00" stroke="#000" stroke-width="1.1"/>
<text x="472.05" y="437.90" font-size="11.4" font-weight="normal" text-anchor="middle"  stroke="#000" stroke-width="0.25">57</text>
<text transform="translate(255.30,430.60) rotate(-90)" font-size="15.2" font-weight="bold" textLength="39.95" lengthAdjust="spacingAndGlyphs" stroke="#000" stroke-width="0.45">Donor</text>
<text transform="translate(255.30,389.35) rotate(-90)" font-size="15.2" font-weight="bold" textLength="41.20" lengthAdjust="spacingAndGlyphs" stroke="#000" stroke-width="0.45">Ly-6G</text>
<text transform="translate(251.40,348.10) rotate(-90)" font-size="10" font-weight="bold" textLength="16.80" lengthAdjust="spacingAndGlyphs" stroke="#000" stroke-width="0.3">Pos</text>
<text transform="translate(255.30,328.70) rotate(-90)" font-size="15.2" font-weight="bold" textLength="34.30" lengthAdjust="spacingAndGlyphs" stroke="#000" stroke-width="0.45">Cells</text>
<text transform="translate(255.30,290.00) rotate(-90)" font-size="15.2" font-weight="bold" textLength="21.85" lengthAdjust="spacingAndGlyphs" stroke="#000" stroke-width="0.45">per</text>
<text transform="translate(255.30,265.00) rotate(-90)" font-size="15.2" font-weight="bold" textLength="42.70" lengthAdjust="spacingAndGlyphs" stroke="#000" stroke-width="0.45">Femur</text>
<text transform="translate(292.20,253.40) scale(1.0,1)" font-size="27.2" font-weight="bold">D</text>
<line x1="321.50" y1="276.50" x2="321.50" y2="330.00" stroke="#000" stroke-width="1"/>
<line x1="318.30" y1="276.50" x2="324.70" y2="276.50" stroke="#000" stroke-width="1.2"/>
<line x1="343.50" y1="320.50" x2="343.50" y2="403.00" stroke="#000" stroke-width="1"/>
<line x1="340.30" y1="320.50" x2="346.70" y2="320.50" stroke="#000" stroke-width="1.2"/>
<line x1="357.50" y1="311.50" x2="357.50" y2="356.50" stroke="#000" stroke-width="1"/>
<line x1="354.30" y1="311.50" x2="360.70" y2="311.50" stroke="#000" stroke-width="1.2"/>
<line x1="354.30" y1="356.50" x2="360.70" y2="356.50" stroke="#000" stroke-width="1.2"/>
<line x1="368.50" y1="250.50" x2="368.50" y2="281.50" stroke="#000" stroke-width="1"/>
<line x1="365.30" y1="250.50" x2="371.70" y2="250.50" stroke="#000" stroke-width="1.2"/>
<line x1="365.30" y1="281.50" x2="371.70" y2="281.50" stroke="#000" stroke-width="1.2"/>
<line x1="389.50" y1="297.50" x2="389.50" y2="323.50" stroke="#000" stroke-width="1"/>
<line x1="386.30" y1="297.50" x2="392.70" y2="297.50" stroke="#000" stroke-width="1.2"/>
<line x1="386.30" y1="323.50" x2="392.70" y2="323.50" stroke="#000" stroke-width="1.2"/>
<line x1="410.50" y1="280.50" x2="410.50" y2="369.50" stroke="#000" stroke-width="1"/>
<line x1="407.30" y1="280.50" x2="413.70" y2="280.50" stroke="#000" stroke-width="1.2"/>
<line x1="407.30" y1="369.50" x2="413.70" y2="369.50" stroke="#000" stroke-width="1.2"/>
<line x1="443.50" y1="275.50" x2="443.50" y2="348.50" stroke="#000" stroke-width="1"/>
<line x1="440.30" y1="275.50" x2="446.70" y2="275.50" stroke="#000" stroke-width="1.2"/>
<line x1="440.30" y1="348.50" x2="446.70" y2="348.50" stroke="#000" stroke-width="1.2"/>
<line x1="468.50" y1="371.50" x2="468.50" y2="396.50" stroke="#000" stroke-width="1"/>
<line x1="465.50" y1="371.50" x2="471.50" y2="371.50" stroke="#000" stroke-width="1.2"/>
<line x1="465.50" y1="396.50" x2="471.50" y2="396.50" stroke="#000" stroke-width="1.2"/>
<line x1="343.50" y1="369.50" x2="343.50" y2="402.50" stroke="#000" stroke-width="1"/>
<line x1="340.30" y1="369.50" x2="346.70" y2="369.50" stroke="#000" stroke-width="1.2"/>
<line x1="340.30" y1="402.50" x2="346.70" y2="402.50" stroke="#000" stroke-width="1.2"/>
<line x1="389.50" y1="397.50" x2="389.50" y2="419.50" stroke="#000" stroke-width="1"/>
<line x1="387.50" y1="397.50" x2="391.50" y2="397.50" stroke="#000" stroke-width="1.2"/>
<line x1="387.50" y1="419.50" x2="391.50" y2="419.50" stroke="#000" stroke-width="1.2"/>
<path d="M293.50,408.50 C294.25,405.75 296.42,398.75 298.00,392.00 C299.58,385.25 301.08,377.17 303.00,368.00 C304.92,358.83 307.50,346.33 309.50,337.00 C311.50,327.67 313.42,318.50 315.00,312.00 C316.58,305.50 317.92,300.75 319.00,298.00 C320.08,295.25 320.78,295.17 321.50,295.50 C322.22,295.83 322.68,295.58 323.30,300.00 C323.92,304.42 324.55,313.33 325.20,322.00 C325.85,330.67 326.52,343.67 327.20,352.00 C327.88,360.33 328.67,367.58 329.30,372.00 C329.93,376.42 330.30,377.83 331.00,378.50 C331.70,379.17 332.42,378.75 333.50,376.00 C334.58,373.25 336.17,366.67 337.50,362.00 C338.83,357.33 340.25,352.33 341.50,348.00 C342.75,343.67 343.58,339.17 345.00,336.00 C346.42,332.83 348.00,330.75 350.00,329.00 C352.00,327.25 354.00,327.17 357.00,325.50 C360.00,323.83 364.17,321.25 368.00,319.00 C371.83,316.75 376.42,313.83 380.00,312.00 C383.58,310.17 386.17,309.08 389.50,308.00 C392.83,306.92 396.50,306.17 400.00,305.50 C403.50,304.83 406.33,304.67 410.50,304.00 C414.67,303.33 419.58,302.50 425.00,301.50 C430.42,300.50 437.17,299.08 443.00,298.00 C448.83,296.92 454.75,295.83 460.00,295.00 C465.25,294.17 472.08,293.33 474.50,293.00" fill="none" stroke="#000" stroke-width="1.6" stroke-dasharray="1.6 1.5" stroke-linecap="butt" stroke-linejoin="round"/>
<rect x="288.15" y="415.15" width="10.70" height="10.70" fill="#000"/>
<rect x="302.15" y="365.05" width="10.70" height="10.70" fill="#000"/>
<rect x="312.65" y="391.15" width="10.70" height="10.70" fill="#000"/>
<rect x="338.15" y="377.15" width="10.70" height="10.70" fill="#000"/>
<rect x="384.15" y="402.15" width="10.70" height="10.70" fill="#000"/>
<rect x="437.65" y="386.15" width="10.70" height="10.70" fill="#000"/>
<circle cx="293.50" cy="408.50" r="4.85" fill="#fff" stroke="#000" stroke-width="1.2"/>
<circle cx="307.50" cy="374.00" r="4.85" fill="#fff" stroke="#000" stroke-width="1.2"/>
<circle cx="318.50" cy="336.00" r="4.85" fill="#fff" stroke="#000" stroke-width="1.2"/>
<circle cx="321.50" cy="295.50" r="4.85" fill="#fff" stroke="#000" stroke-width="1.2"/>
<circle cx="332.00" cy="419.50" r="4.85" fill="#fff" stroke="#000" stroke-width="1.2"/>
<circle cx="343.00" cy="341.00" r="4.85" fill="#fff" stroke="#000" stroke-width="1.2"/>
<circle cx="357.00" cy="328.00" r="4.85" fill="#fff" stroke="#000" stroke-width="1.2"/>
<circle cx="368.00" cy="264.00" r="4.85" fill="#fff" stroke="#000" stroke-width="1.2"/>
<circle cx="389.50" cy="308.00" r="4.85" fill="#fff" stroke="#000" stroke-width="1.2"/>
<circle cx="410.50" cy="304.00" r="4.85" fill="#fff" stroke="#000" stroke-width="1.2"/>
<circle cx="443.00" cy="297.50" r="4.85" fill="#fff" stroke="#000" stroke-width="1.2"/>
<circle cx="468.00" cy="381.50" r="4.85" fill="#fff" stroke="#000" stroke-width="1.2"/>
<line x1="47.00" y1="452.00" x2="151.20" y2="452.00" stroke="#000" stroke-width="1.5"/>
<path d="M43.2,452.0 L52.4,447.4 L49.8,452.0 L52.4,456.6 Z" fill="#000"/>
<line x1="349.40" y1="452.00" x2="467.00" y2="452.00" stroke="#000" stroke-width="1.5"/>
<path d="M470.8,452.0 L461.6,447.4 L464.2,452.0 L461.6,456.6 Z" fill="#000"/>
<text x="156.0" y="456.0" font-size="13.8" font-weight="bold" textLength="187.6" lengthAdjust="spacingAndGlyphs" stroke="#000" stroke-width="0.4">Time after transplantation (d)</text>
</svg>
</body></html>
